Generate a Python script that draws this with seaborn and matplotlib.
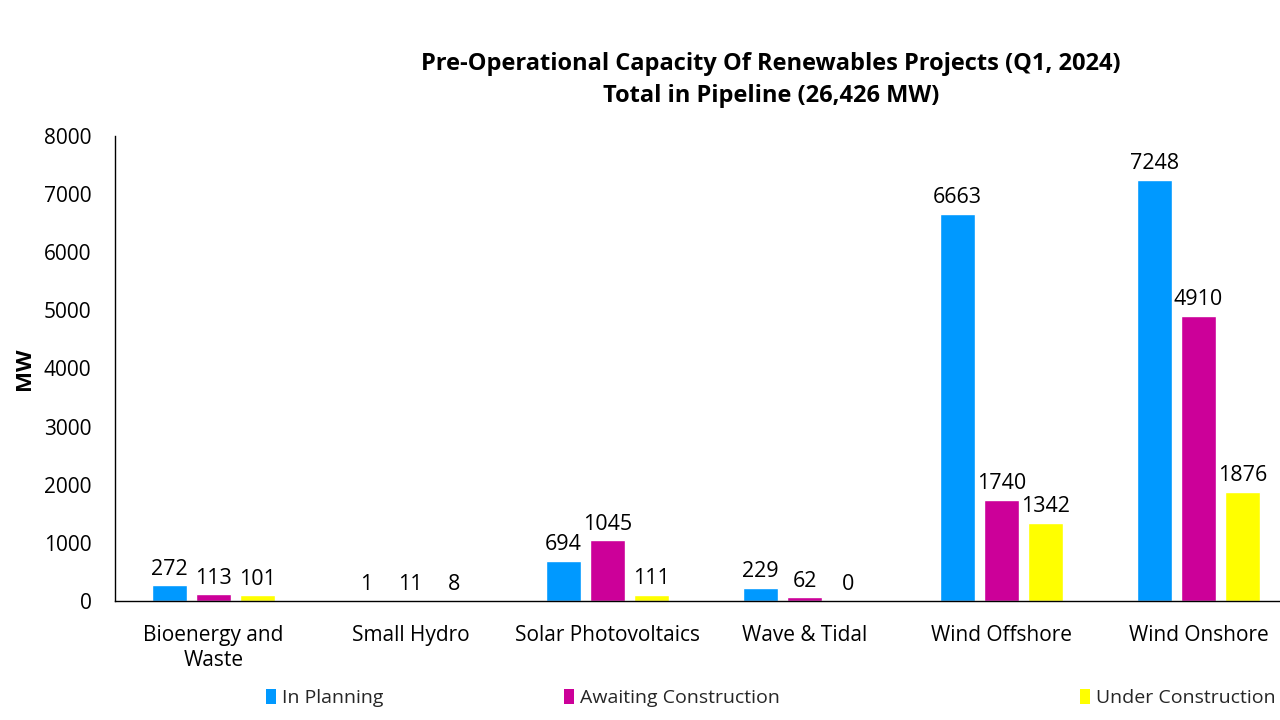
import matplotlib
matplotlib.use("Agg")
import matplotlib.pyplot as plt
import seaborn as sns
import pandas as pd
from matplotlib.patches import Patch

categories = ["Bioenergy and\nWaste", "Small Hydro", "Solar Photovoltaics", "Wave & Tidal", "Wind Offshore", "Wind Onshore"]
series_names = ["In Planning", "Awaiting Construction", "Under Construction"]
in_planning = [272, 1, 694, 229, 6663, 7248]
awaiting = [113, 11, 1045, 62, 1740, 4910]
under_construction = [101, 8, 111, 0, 1342, 1876]
colors = ["#0099FF", "#CC0099", "#FFFF00"]

rows = []
for vals, name in zip([in_planning, awaiting, under_construction], series_names):
    for c, v in zip(categories, vals):
        rows.append({"Category": c, "Status": name, "MW": v})
df = pd.DataFrame(rows)

sns.set_theme(style="white")
plt.rcParams['font.family'] = ['Open Sans', 'DejaVu Sans']

fig = plt.figure(figsize=(12.8, 7.2), dpi=100)
ax = fig.add_axes([115/1280, 1-601/720, 1182/1280, 465/720])
sns.barplot(data=df, x="Category", y="MW", hue="Status", palette=colors,
            width=0.67, gap=0.2, ax=ax, legend=False, saturation=1)

for cont in ax.containers:
    ax.bar_label(cont, fmt="%d", padding=4, fontsize=15.5, color="#000000")

ax.set_ylim(0, 8000)
ax.set_xlim(-0.5, 5.5)
ax.set_yticks(range(0, 8001, 1000))
ax.tick_params(axis='y', labelsize=15, length=0, pad=17, colors="#000000")
ax.tick_params(axis='x', labelsize=15, length=0, pad=17, colors="#000000")
for lbl in ax.get_xticklabels():
    lbl.set_linespacing(1.3)
ax.set_xlabel("")
ax.set_ylabel("MW", fontsize=16, fontweight="bold", labelpad=6, color="#000000")
for s in ["top", "right"]:
    ax.spines[s].set_visible(False)
for s in ["left", "bottom"]:
    ax.spines[s].set_color("#000000")
    ax.spines[s].set_linewidth(1)

fig.text(771/1280, 1-80/720, "Pre-Operational Capacity Of Renewables Projects (Q1, 2024)\nTotal in Pipeline (26,426 MW)",
         ha="center", va="center", fontsize=17, fontweight="bold", linespacing=1.45, color="#000000")

legend_x = [266/1280, 564/1280, 1080/1280]
for h_color, name, lx in zip(colors, series_names, legend_x):
    fig.legend([Patch(facecolor=h_color, edgecolor="none")], [name], loc="center left",
               bbox_to_anchor=(lx, 1-698/720), frameon=False, fontsize=14,
               handlelength=0.5, handleheight=0.8, handletextpad=0.3, borderpad=0, borderaxespad=0)

fig.savefig("out.png", dpi=100)
